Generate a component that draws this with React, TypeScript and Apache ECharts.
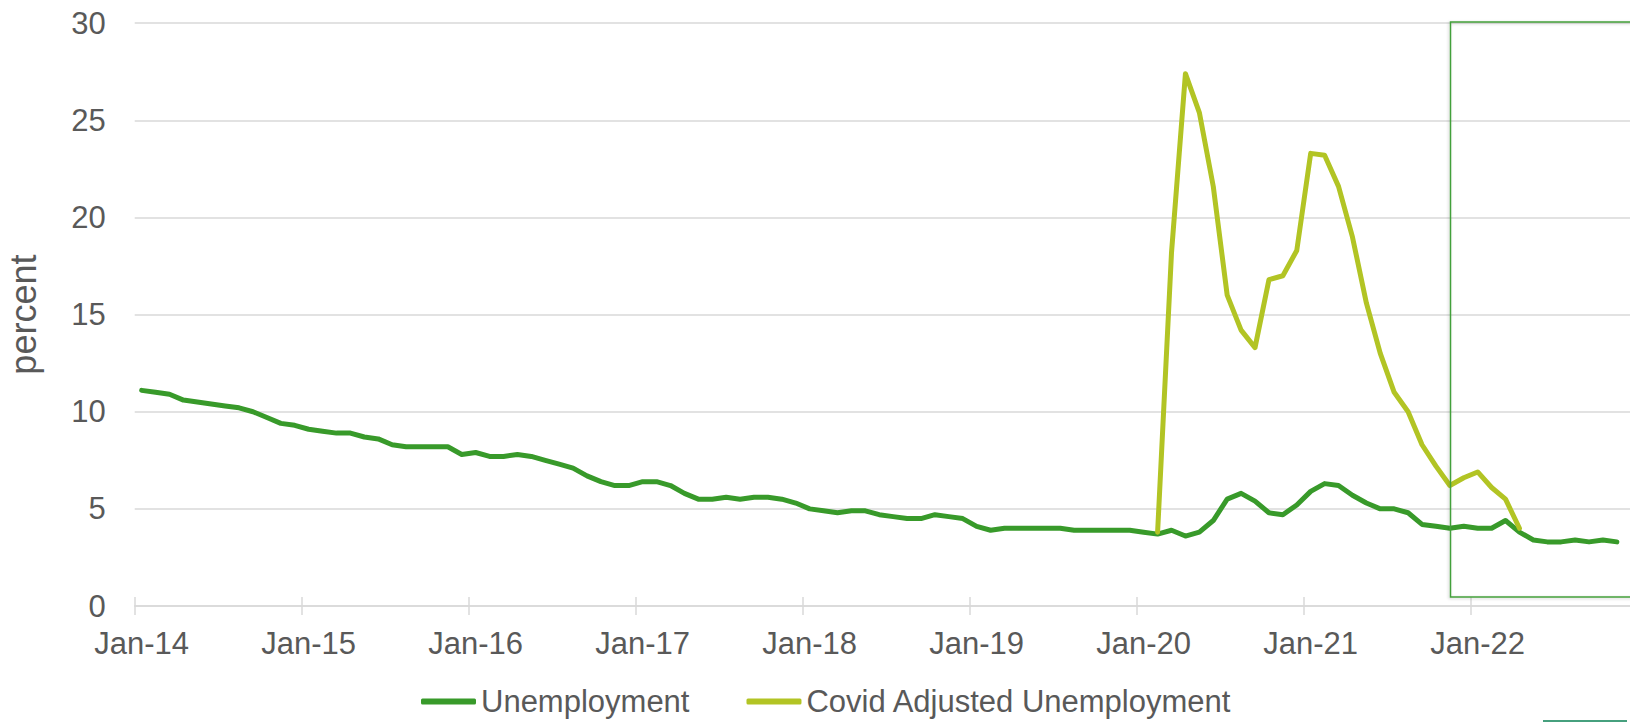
import React, { useEffect, useRef } from "react";
import * as echarts from "echarts";

const monthNames = ["Jan", "Feb", "Mar", "Apr", "May", "Jun", "Jul", "Aug", "Sep", "Oct", "Nov", "Dec"];
const years = ["14", "15", "16", "17", "18", "19", "20", "21", "22"];
const categories: string[] = [];
years.forEach((y) => monthNames.forEach((m) => categories.push(`${m}-${y}`)));

const unemployment = [
  11.1, 11.0, 10.9, 10.6, 10.5, 10.4, 10.3, 10.2, 10.0, 9.7, 9.4, 9.3,
  9.1, 9.0, 8.9, 8.9, 8.7, 8.6, 8.3, 8.2, 8.2, 8.2, 8.2, 7.8,
  7.9, 7.7, 7.7, 7.8, 7.7, 7.5, 7.3, 7.1, 6.7, 6.4, 6.2, 6.2,
  6.4, 6.4, 6.2, 5.8, 5.5, 5.5, 5.6, 5.5, 5.6, 5.6, 5.5, 5.3,
  5.0, 4.9, 4.8, 4.9, 4.9, 4.7, 4.6, 4.5, 4.5, 4.7, 4.6, 4.5,
  4.1, 3.9, 4.0, 4.0, 4.0, 4.0, 4.0, 3.9, 3.9, 3.9, 3.9, 3.9,
  3.8, 3.7, 3.9, 3.6, 3.8, 4.4, 5.5, 5.8, 5.4, 4.8, 4.7, 5.2,
  5.9, 6.3, 6.2, 5.7, 5.3, 5.0, 5.0, 4.8, 4.2, 4.1, 4.0, 4.1,
  4.0, 4.0, 4.4, 3.8, 3.4, 3.3, 3.3, 3.4, 3.3, 3.4, 3.3,
];

const covidStart = "Feb-20";
const covidAdjusted = [
  3.8, 18.2, 27.4, 25.4, 21.6, 16.0, 14.2, 13.3, 16.8, 17.0, 18.3,
  23.3, 23.2, 21.6, 19.0, 15.6, 13.0, 11.0, 10.0, 8.3, 7.2, 6.2, 6.6,
  6.9, 6.1, 5.5, 4.0,
];

const yTicks = { min: 0, max: 30, interval: 5 };

const TEXT = "#595959";
const GRID = "#d9d9d9";
const FONT = "'Liberation Sans', Arial, sans-serif";

export default function App() {
  const ref = useRef<HTMLDivElement>(null);
  useEffect(() => {
    if (!ref.current) return;
    const chart = echarts.init(ref.current, null, { renderer: "svg" });
    const startIdx = categories.indexOf(covidStart);
    const covidData = categories.map((_, i) =>
      i >= startIdx && i - startIdx < covidAdjusted.length ? covidAdjusted[i - startIdx] : null
    );
    const unempData = categories.map((_, i) => (i < unemployment.length ? unemployment[i] : null));
    const yearStart = (idx: number) => idx % 12 === 0;

    const left = 134.7;
    const bandW = 13.917;
    const plotW = bandW * categories.length;
    const right = 1630 - left - plotW;

    chart.setOption({
      animation: false,
      textStyle: { fontFamily: FONT },
      grid: {
        left,
        right,
        top: 23.2,
        bottom: 116,
        containLabel: false,
        outerBoundsMode: "none",
      },
      legend: {
        left: 421,
        top: 686,
        padding: 0,
        itemWidth: 55,
        itemHeight: 6,
        itemGap: 57,
        icon: "roundRect",
        textStyle: { color: TEXT, fontSize: 31, fontFamily: FONT },
        data: ["Unemployment", "Covid Adjusted Unemployment"],
      },
      xAxis: [
        {
          type: "category",
          data: categories,
          boundaryGap: true,
          axisLine: { show: true, lineStyle: { color: GRID, width: 1.5 } },
          axisTick: {
            show: true,
            interval: (i: number) => yearStart(i),
            length: 9,
            lineStyle: { color: GRID, width: 1.5 },
          },
          axisLabel: {
            interval: (i: number) => yearStart(i),
            color: TEXT,
            fontSize: 31,
            fontFamily: FONT,
            margin: 22,
          },
          splitLine: { show: false },
        },
        {
          type: "category",
          data: categories,
          boundaryGap: true,
          position: "bottom",
          axisLine: { show: false },
          axisTick: {
            show: true,
            inside: true,
            interval: (i: number) => yearStart(i),
            length: 9,
            lineStyle: { color: GRID, width: 1.5 },
          },
          axisLabel: { show: false },
          splitLine: { show: false },
        },
      ],
      yAxis: {
        type: "value",
        min: yTicks.min,
        max: yTicks.max,
        interval: yTicks.interval,
        name: "percent",
        nameLocation: "middle",
        nameGap: 93,
        nameTextStyle: { color: TEXT, fontSize: 36, fontFamily: FONT },
        axisLine: { show: false },
        axisTick: { show: false },
        axisLabel: { color: TEXT, fontSize: 31, fontFamily: FONT, margin: 29 },
        splitLine: { show: true, lineStyle: { color: GRID, width: 1.5 } },
      },
      series: [
        {
          name: "Unemployment",
          type: "line",
          data: unempData,
          showSymbol: false,
          symbol: "none",
          color: "#389A2A",
          lineStyle: { color: "#389A2A", width: 5, cap: "round", join: "round" },
          itemStyle: { color: "#389A2A" },
        },
        {
          name: "Covid Adjusted Unemployment",
          type: "line",
          data: covidData,
          showSymbol: false,
          symbol: "none",
          color: "#B2C424",
          lineStyle: { color: "#B2C424", width: 5, cap: "round", join: "round" },
          itemStyle: { color: "#B2C424" },
        },
      ],
      graphic: [
        {
          type: "rect",
          shape: { x: 1450.5, y: 22, width: 300, height: 575 },
          style: {
            fill: "none",
            stroke: "#43A03A",
            lineWidth: 1.5,
            shadowBlur: 3,
            shadowColor: "rgba(0,0,0,0.2)",
            shadowOffsetX: -1,
            shadowOffsetY: 1,
          },
          z: 10,
        },
        {
          type: "rect",
          shape: { x: 1543, y: 720, width: 84, height: 2 },
          style: { fill: "#46A07E" },
        },
      ],
    });
    return () => chart.dispose();
  }, []);
  return (
    <div
      ref={ref}
      style={{ position: "absolute", left: 0, top: 0, width: 1630, height: 722, background: "#fff" }}
    />
  );
}
